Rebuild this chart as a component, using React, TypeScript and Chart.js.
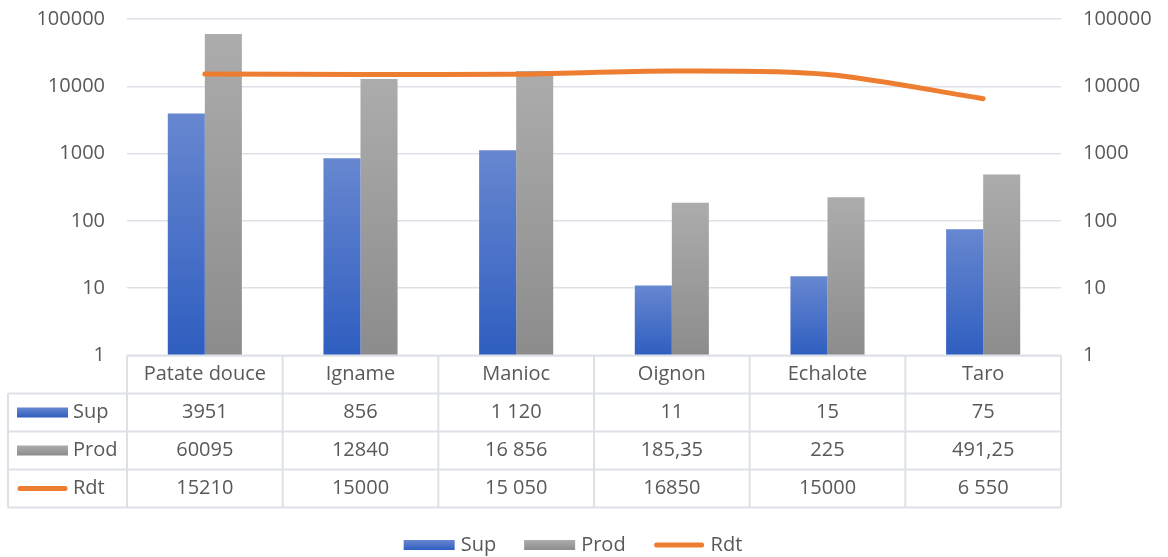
import React, { useEffect, useRef } from 'react';
import { Chart, registerables } from 'chart.js';

Chart.register(...registerables);

const categories = ['Patate douce', 'Igname', 'Manioc', 'Oignon', 'Echalote', 'Taro'];
const supValues = [3951, 856, 1120, 11, 15, 75];
const prodValues = [60095, 12840, 16856, 185.35, 225, 491.25];
const rdtValues = [15210, 15000, 15050, 16850, 15000, 6550];
const supText = ['3951', '856', '1 120', '11', '15', '75'];
const prodText = ['60095', '12840', '16 856', '185,35', '225', '491,25'];
const rdtText = ['15210', '15000', '15 050', '16850', '15000', '6 550'];
const tickValues = [1, 10, 100, 1000, 10000, 100000];
const seriesNames = ['Sup', 'Prod', 'Rdt'];

const FONT_FAMILY = "'Open Sans', 'Noto Sans', sans-serif";
const FONT_SIZE = 20;
const TEXT = '#595959';
const GRID = '#dde1e7';
const ORANGE = '#ED7D31';
const SUP_TOP = '#6787d0';
const SUP_BOTTOM = '#2f5ec0';
const PROD_TOP = '#acacac';
const PROD_BOTTOM = '#8c8c8c';

function barGradient(top: string, bottom: string) {
  return (c: any) => {
    const chart = c.chart;
    const area = chart.chartArea;
    if (!area || c.type !== 'data' || !chart.scales.y) return bottom;
    const y = chart.scales.y.getPixelForValue(c.raw);
    const g = chart.ctx.createLinearGradient(0, y, 0, area.bottom);
    g.addColorStop(0, top);
    g.addColorStop(1, bottom);
    return g;
  };
}

function drawMarker(ctx: CanvasRenderingContext2D, kind: number, x: number, cy: number, w: number) {
  if (kind === 2) {
    ctx.save();
    ctx.strokeStyle = ORANGE;
    ctx.lineWidth = 5;
    ctx.lineCap = 'round';
    ctx.beginPath();
    ctx.moveTo(x + 3, cy);
    ctx.lineTo(x + w - 3, cy);
    ctx.stroke();
    ctx.restore();
    return;
  }
  const h = 10;
  const g = ctx.createLinearGradient(0, cy - h / 2, 0, cy + h / 2);
  g.addColorStop(0, kind === 0 ? SUP_TOP : PROD_TOP);
  g.addColorStop(1, kind === 0 ? SUP_BOTTOM : PROD_BOTTOM);
  ctx.fillStyle = g;
  ctx.fillRect(x, cy - h / 2, w, h);
}

const tablePlugin = {
  id: 'dataTable',
  afterDraw(chart: any) {
    const ctx: CanvasRenderingContext2D = chart.ctx;
    const { left, right, bottom } = chart.chartArea;
    const n = categories.length;
    const colW = (right - left) / n;
    const rowH = 38;
    const tableLeft = 8;
    const top = bottom;
    ctx.save();
    ctx.strokeStyle = GRID;
    ctx.lineWidth = 2;
    const line = (x1: number, y1: number, x2: number, y2: number) => {
      ctx.beginPath();
      ctx.moveTo(x1, y1);
      ctx.lineTo(x2, y2);
      ctx.stroke();
    };
    line(left, top, right, top);
    for (let r = 1; r <= 4; r++) line(tableLeft, top + r * rowH, right, top + r * rowH);
    line(tableLeft, top + rowH, tableLeft, top + 4 * rowH);
    for (let i = 0; i <= n; i++) line(left + i * colW, top, left + i * colW, top + 4 * rowH);

    ctx.font = `${FONT_SIZE}px ${FONT_FAMILY}`;
    ctx.fillStyle = TEXT;
    ctx.textAlign = 'center';
    ctx.textBaseline = 'middle';
    categories.forEach((c, i) => ctx.fillText(c, left + (i + 0.5) * colW, top + rowH / 2));
    const rows = [supText, prodText, rdtText];
    rows.forEach((row, r) => {
      const cy = top + (r + 1.5) * rowH;
      row.forEach((t, i) => {
        ctx.fillStyle = TEXT;
        ctx.fillText(t, left + (i + 0.5) * colW, cy);
      });
      drawMarker(ctx, r, 17, cy, 51);
      ctx.fillStyle = TEXT;
      ctx.textAlign = 'left';
      ctx.fillText(seriesNames[r], 73, cy);
      ctx.textAlign = 'center';
    });

    // legend
    const ly = 545;
    const markerW = 51;
    const gapText = 6;
    const spacing = 28;
    ctx.textAlign = 'left';
    const widths = seriesNames.map((s) => markerW + gapText + ctx.measureText(s).width);
    const total = widths.reduce((a, b) => a + b, 0) + spacing * (widths.length - 1);
    let x = 573 - total / 2;
    seriesNames.forEach((s, i) => {
      drawMarker(ctx, i, x, ly, markerW);
      ctx.fillStyle = TEXT;
      ctx.fillText(s, x + markerW + gapText, ly);
      x += widths[i] + spacing;
    });
    ctx.restore();
  },
};

const setTicks = (scale: any) => {
  scale.ticks = tickValues.map((v) => ({ value: v }));
};

const fitAxis = (w: number) => (s: any) => {
  s.width = w;
  s.paddingTop = 0;
  s.paddingBottom = 0;
};

export default function App() {
  const ref = useRef<HTMLCanvasElement>(null);
  useEffect(() => {
    if (!ref.current) return;
    const font = { family: FONT_FAMILY, size: FONT_SIZE };
    const chart = new Chart(ref.current, {
      data: {
        labels: categories,
        datasets: [
          {
            type: 'line',
            label: seriesNames[2],
            data: rdtValues,
            borderColor: ORANGE,
            backgroundColor: ORANGE,
            borderWidth: 5,
            borderCapStyle: 'round',
            borderJoinStyle: 'round',
            pointRadius: 0,
            tension: 0.3,
            yAxisID: 'y2',
            order: 0,
          },
          {
            type: 'bar',
            label: seriesNames[0],
            data: supValues,
            backgroundColor: barGradient(SUP_TOP, SUP_BOTTOM),
            barPercentage: 1,
            categoryPercentage: 0.476,
            yAxisID: 'y',
            order: 1,
          },
          {
            type: 'bar',
            label: seriesNames[1],
            data: prodValues,
            backgroundColor: barGradient(PROD_TOP, PROD_BOTTOM),
            barPercentage: 1,
            categoryPercentage: 0.476,
            yAxisID: 'y',
            order: 1,
          },
        ],
      } as any,
      options: {
        responsive: false,
        animation: false,
        layout: { padding: { top: 19, bottom: 201.5, left: 0, right: 0 } },
        plugins: { legend: { display: false }, tooltip: { enabled: false } },
        scales: {
          x: { display: false, offset: true },
          y: {
            type: 'logarithmic',
            position: 'left',
            min: 1,
            max: 100000,
            afterBuildTicks: setTicks,
            afterFit: fitAxis(127),
            border: { display: false },
            grid: { color: GRID, lineWidth: 1.5, drawTicks: false },
            ticks: { font, color: TEXT, padding: 22, callback: (v: any) => String(v) },
          },
          y2: {
            type: 'logarithmic',
            position: 'right',
            min: 1,
            max: 100000,
            afterBuildTicks: setTicks,
            afterFit: fitAxis(107),
            border: { display: false },
            grid: { display: false, drawTicks: false },
            ticks: { font, color: TEXT, padding: 22, callback: (v: any) => String(v) },
          },
        },
      } as any,
      plugins: [tablePlugin],
    });
    return () => chart.destroy();
  }, []);
  return (
    <div style={{ position: 'fixed', left: 0, top: 0, width: 1168, height: 557, background: '#fff' }}>
      <canvas ref={ref} width={1168} height={557} style={{ display: 'block' }} />
    </div>
  );
}
